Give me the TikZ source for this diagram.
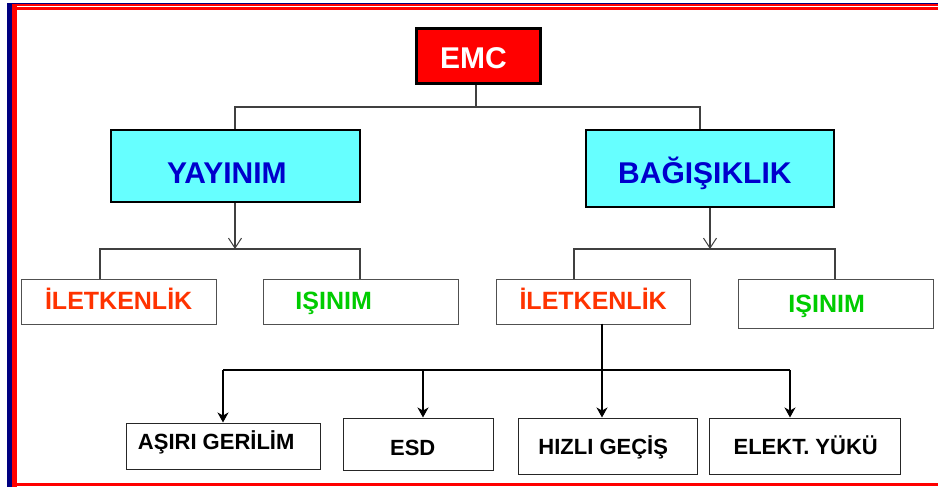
\documentclass[tikz,border=0pt]{standalone}
\usepackage{fontspec}
\setmainfont{Liberation Sans}
\usetikzlibrary{arrows.meta}

\definecolor{framered}{HTML}{FF0000}
\definecolor{frameblue}{HTML}{000080}
\definecolor{boxcyan}{HTML}{66FFFF}
\definecolor{titleblue}{HTML}{0000CC}
\definecolor{condred}{HTML}{FF3300}
\definecolor{radgreen}{HTML}{00CC00}
\definecolor{linegray}{HTML}{404040}
\definecolor{edgegray}{HTML}{505050}

\tikzset{
  conn/.style={draw=linegray, line width=1.2pt},
  openarrow/.style={conn, -{Straight Barb[length=10pt,width=13pt,line width=1pt]}},
  solidarrow/.style={conn, draw=black, -{Stealth[length=10pt,width=11pt,inset=3pt]}},
  rootbox/.style={draw=black, line width=3pt, fill=framered, anchor=north west, inner sep=0pt},
  branchbox/.style={draw=black, line width=1.8pt, fill=boxcyan, anchor=north west, inner sep=0pt},
  midbox/.style={draw=edgegray, line width=1.3pt, fill=white, anchor=north west, inner sep=0pt},
  leafbox/.style={draw=black!85, line width=1.4pt, fill=white, anchor=north west, inner sep=0pt},
  txt/.style={inner sep=0pt, text depth=0pt},
  bigtxt/.style={txt, text height=21.5pt, font=\fontsize{30}{36}\selectfont\bfseries},
  midtxt/.style={txt, text height=18pt, font=\fontsize{25}{30}\selectfont\bfseries},
  smalltxt/.style={txt, text height=15.8pt, font=\fontsize{22}{26}\selectfont\bfseries, text=black},
}

\begin{document}
\begin{tikzpicture}[x=1pt, y=-1pt]
\useasboundingbox (0,0) rectangle (938,487);

% page frame: navy and red bars on the left, lines along top and bottom
\fill[frameblue] (7,3) rectangle (12,487);
\fill[frameblue] (7,3) rectangle (938,4.4);
\fill[framered] (12,4.4) rectangle (938,10.5);
\fill[framered] (12,4.4) rectangle (17,487);
\fill[white] (17,5.6) rectangle (938,6.4);
\fill[framered] (12,483) rectangle (938,486);

% root
\node[rootbox, minimum width=124pt, minimum height=55pt,
      label={[bigtxt, text=white, xshift=-4.5pt, yshift=-1pt]center:EMC}]
      (emc) at (414.5,27.5) {};

% emission / immunity
\node[branchbox, minimum width=249pt, minimum height=72pt,
      label={[bigtxt, text=titleblue, xshift=-8.5pt, yshift=-7pt]center:YAYINIM}]
      (yay) at (110,129) {};
\node[branchbox, minimum width=248pt, minimum height=77pt,
      label={[bigtxt, text=titleblue, xshift=-5pt, yshift=-4.5pt]center:BAĞIŞIKLIK}]
      (bag) at (585,129) {};

% conduction / radiation under each branch
\node[midbox, minimum width=195pt, minimum height=45pt,
      label={[midtxt, text=condred, yshift=1pt]center:İLETKENLİK}]
      (yil) at (20.5,278.5) {};
\node[midbox, minimum width=195pt, minimum height=45pt,
      label={[midtxt, text=radgreen, xshift=-27pt, yshift=1pt]center:IŞINIM}]
      (yis) at (262.5,278.5) {};
\node[midbox, minimum width=194pt, minimum height=45pt,
      label={[midtxt, text=condred, yshift=1pt]center:İLETKENLİK}]
      (bil) at (495.5,278.5) {};
\node[midbox, minimum width=195pt, minimum height=49pt,
      label={[midtxt, text=radgreen, xshift=-9pt]center:IŞINIM}]
      (bis) at (737.5,278.5) {};

% conducted immunity phenomena
\node[leafbox, minimum width=194pt, minimum height=46pt,
      label={[smalltxt, xshift=-7pt, yshift=5pt]center:AŞIRI GERİLİM}]
      (asr) at (125.5,422.5) {};
\node[leafbox, minimum width=150pt, minimum height=52pt,
      label={[smalltxt, xshift=-5.5pt, yshift=-3pt]center:ESD}]
      (esd) at (342.5,417.5) {};
\node[leafbox, minimum width=179pt, minimum height=56pt,
      label={[smalltxt, xshift=-4.5pt]center:HIZLI GEÇİŞ}]
      (hzl) at (517.5,417.5) {};
\node[leafbox, minimum width=191pt, minimum height=56pt,
      label={[smalltxt, xshift=1pt]center:ELEKT. YÜKÜ}]
      (elk) at (708.5,417.5) {};

% junction points of the connector buses
\coordinate (j1) at (476,107);
\coordinate (bagin) at (700,129);
\coordinate (j2) at (235,249);
\coordinate (j3) at (710,249);
\coordinate (yilin) at (100,278.5);
\coordinate (bilin) at (574,278.5);
\coordinate (bisin) at (835,278.5);
\coordinate (yisin) at (360,278.5);
\coordinate (bilout) at (602,323.5);
\coordinate (j4) at (602,370);

% root to branches
\draw[conn] (emc.south -| j1) -- (j1);
\draw[conn] (yay.north -| 235,0) |- (j1) -| (bagin);

% branches to conduction / radiation
\draw[openarrow] (yay.south -| j2) -- (j2);
\draw[conn] (yilin) |- (j2) -| (yisin);
\draw[openarrow] (bag.south -| j3) -- (j3);
\draw[conn] (bilin) |- (j3) -| (bisin);

% conduction to its phenomena
\draw[solidarrow] (bilout) -- (hzl.north -| bilout);
\draw[conn, draw=black] (223,370) -- (790,370);
\draw[solidarrow] (223,370) -- (asr.north -| 223,0);
\draw[solidarrow] (423,370) -- (esd.north -| 423,0);
\draw[solidarrow] (790,370) -- (elk.north -| 790,0);
\end{tikzpicture}
\end{document}
